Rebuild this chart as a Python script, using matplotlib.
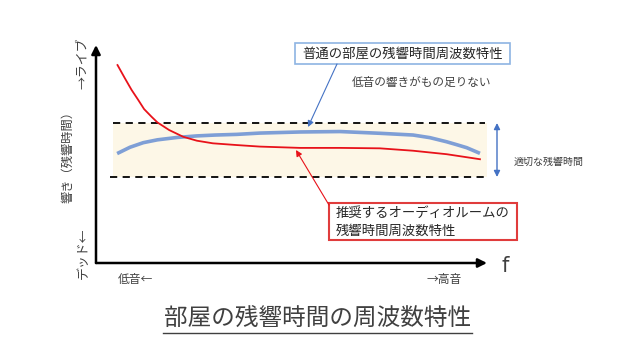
import matplotlib
matplotlib.use("Agg")
import matplotlib.pyplot as plt
from matplotlib.patches import Rectangle

plt.rcParams['font.family'] = ['Noto Sans CJK JP', 'DejaVu Sans']

# ---- data (relative frequency 0-100, relative reverberation 0-100) ----
red_x = [5.5, 7.4, 9.1, 10.8, 12.3, 14.2, 15.7, 18.7, 22.3, 25.8, 29.9, 36.0,
         41.9, 52.2, 62.4, 72.6, 81.1, 89.7, 98.2]
red_y = [90.8, 84.7, 79.4, 74.8, 70.6, 67.1, 64.5, 61.0, 57.9, 56.1, 54.9, 54.1,
         53.4, 52.8, 52.8, 52.6, 51.5, 49.9, 47.6]
blue_x = [5.4, 8.7, 12.1, 15.7, 20.8, 25.8, 30.5, 36.0, 41.9, 52.2, 62.4, 72.6,
          81.1, 85.4, 89.7, 92.2, 94.8, 98.2]
blue_y = [50.2, 53.1, 55.2, 56.5, 57.6, 58.3, 58.7, 59.0, 59.6, 60.1, 60.3, 59.5,
          58.7, 57.5, 55.6, 54.3, 52.9, 50.3]
band_low, band_high = 39.4, 64.2

title = "部屋の残響時間の周波数特性"
ylabel = "響き（残響時間）"
y_top_label = "→ライブ"
y_bottom_label = "デッド←"
x_left_label = "低音←"
x_right_label = "→高音"
box1_text = "普通の部屋の残響時間周波数特性"
box1_note = "低音の響きがもの足りない"
box2_lines = ["推奨するオーディオルームの", "残響時間周波数特性"]
band_label = "適切な残響時間"

W, H = 640, 360
fig = plt.figure(figsize=(6.4, 3.6), dpi=100)
fig.patch.set_facecolor('white')

# overlay in pixel coordinates for annotations
ov = fig.add_axes([0, 0, 1, 1], zorder=3)
ov.set_xlim(0, W)
ov.set_ylim(H, 0)
ov.axis('off')
ov.patch.set_alpha(0)

# data axes
x0, y0, x1, y1 = 96, 263, 487, 45
ax = fig.add_axes([x0 / W, (H - y0) / H, (x1 - x0) / W, (y0 - y1) / H], zorder=2)
ax.set_xlim(0, 100)
ax.set_ylim(0, 100)
ax.axis('off')
ax.patch.set_alpha(0)

# band
ax.fill_between([4.3, 100], band_low, band_high, color='#fdf7e7', lw=0, zorder=1)
ax.plot([4.3, 99.5], [band_high, band_high], ls=(0, (4, 3)), color='black', lw=1.3, zorder=2)
ax.plot([3.6, 99.5], [band_low, band_low], ls=(0, (4, 3)), color='black', lw=1.3, zorder=2)

# curves
ax.plot(blue_x, blue_y, color='#7f9fd6', lw=2.6, solid_capstyle='butt',
        solid_joinstyle='round', zorder=3)
ax.plot(red_x, red_y, color='#e8121a', lw=1.3, solid_joinstyle='round', zorder=4)

# axes arrows
ap = dict(arrowstyle='-|>', lw=1.8, color='black', mutation_scale=13, shrinkA=0, shrinkB=0)
ax.annotate('', xy=(100, 0), xytext=(0, 0), arrowprops=ap, annotation_clip=False)
ax.annotate('', xy=(0, 100), xytext=(0, 0), arrowprops=ap, annotation_clip=False)

gray = '#404040'
# axis texts
ov.text(505, 266, "f", fontsize=15, color=gray, ha='center', va='center', family=['DejaVu Sans'])
ov.text(135, 279, x_left_label, fontsize=8.5, color=gray, ha='center', va='center')
ov.text(444, 279, x_right_label, fontsize=8.5, color=gray, ha='center', va='center')
ov.text(68, 154, ylabel, fontsize=8.8, color=gray, rotation=90, ha='center', va='center')
ov.text(83, 63, y_top_label, fontsize=9.3, color=gray, rotation=90, ha='center', va='center')
ov.text(83, 253, y_bottom_label, fontsize=9.3, color=gray, rotation=90, ha='center', va='center')

# band arrow and label
ov.annotate('', xy=(497, 123), xytext=(497, 177),
            arrowprops=dict(arrowstyle='<|-|>', lw=1.0, color='#4472c4', mutation_scale=9,
                            shrinkA=0, shrinkB=0))
ov.text(514, 162, band_label, fontsize=7.2, color=gray, ha='left', va='center')

# box 1
ov.add_patch(Rectangle((295, 43), 215, 21, facecolor='white', edgecolor='#8eb4e3', lw=1.2))
ov.text(402.5, 54, box1_text, fontsize=9.6, color='#262626', ha='center', va='center')
ov.text(352, 82, box1_note, fontsize=8.4, color=gray, ha='left', va='center')
ov.annotate('', xy=(308, 127), xytext=(337, 64),
            arrowprops=dict(arrowstyle='-|>', lw=0.8, color='#4472c4', mutation_scale=9,
                            shrinkA=0, shrinkB=0))

# box 2
ov.add_patch(Rectangle((329, 203), 188, 37, facecolor='white', edgecolor='#e03c3c', lw=1.5))
ov.text(336, 213, box2_lines[0], fontsize=9.6, color='#262626', ha='left', va='center')
ov.text(336, 231, box2_lines[1], fontsize=9.6, color='#262626', ha='left', va='center')
ov.annotate('', xy=(296, 150), xytext=(329, 205),
            arrowprops=dict(arrowstyle='-|>', lw=0.8, color='#e8121a', mutation_scale=9,
                            shrinkA=0, shrinkB=0))

# title with underline
ov.text(317.5, 319, title, fontsize=17, color=gray, ha='center', va='center')
ov.plot([163, 472], [333, 333], color=gray, lw=1.0)

fig.savefig('out.png', dpi=100)
